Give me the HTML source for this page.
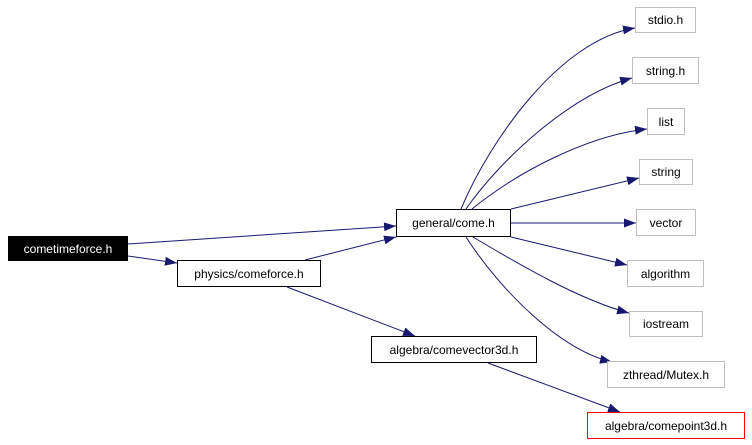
<!DOCTYPE html>
<html><head><meta charset="utf-8"><style>
html,body{margin:0;padding:0;background:#fff;}
body{width:752px;height:445px;position:relative;overflow:hidden;font-family:"Liberation Sans",Arial,sans-serif;}
.n{position:absolute;box-sizing:border-box;border:1px solid #000;background:#fff;font-size:12px;color:#000;display:flex;align-items:center;justify-content:center;white-space:nowrap;}
.g{border-color:#bfbfbf;}
svg{position:absolute;left:0;top:0;}
</style></head><body>
<svg width="752" height="445" viewBox="0 0 752 445">
<defs><marker id="a" markerWidth="12" markerHeight="9" refX="12" refY="4.5" orient="auto" markerUnits="userSpaceOnUse"><path d="M0,0 L12,4.5 L0,9 z" fill="#191970"/></marker></defs>
<g fill="none" stroke="#191970" stroke-width="1" marker-end="url(#a)">
<path d="M128,244 L396,226"/>
<path d="M128,256 L177,263"/>
<path d="M305,260 L396,237"/>
<path d="M287,287 L415,336"/>
<path d="M488,363 L620,412"/>
<path d="M461,209 C490,140 560,40 635,28"/>
<path d="M466,209 C500,160 570,95 632,78"/>
<path d="M472,209 C520,170 590,135 647,129"/>
<path d="M511,209 L639,178"/>
<path d="M511,223 L636,223"/>
<path d="M511,237 L627,265"/>
<path d="M473,237 C520,265 580,300 629,313"/>
<path d="M466,237 C500,290 560,350 612,362"/>
</g>
</svg>
<div class="n" style="left:8px;top:236px;width:120px;height:25px;background:#000;color:#fff;">cometimeforce.h</div>
<div class="n" style="left:177px;top:260px;width:144px;height:27px;">physics/comeforce.h</div>
<div class="n" style="left:396px;top:209px;width:115px;height:28px;">general/come.h</div>
<div class="n" style="left:371px;top:336px;width:166px;height:27px;">algebra/comevector3d.h</div>
<div class="n" style="left:587px;top:412px;width:158px;height:27px;border-color:#f00;">algebra/comepoint3d.h</div>
<div class="n g" style="left:635px;top:7px;width:61px;height:26px;">stdio.h</div>
<div class="n g" style="left:632px;top:57px;width:67px;height:27px;">string.h</div>
<div class="n g" style="left:647px;top:108px;width:38px;height:27px;">list</div>
<div class="n g" style="left:639px;top:159px;width:54px;height:26px;">string</div>
<div class="n g" style="left:636px;top:209px;width:60px;height:27px;">vector</div>
<div class="n g" style="left:627px;top:260px;width:77px;height:27px;">algorithm</div>
<div class="n g" style="left:629px;top:311px;width:74px;height:26px;">iostream</div>
<div class="n g" style="left:607px;top:361px;width:118px;height:27px;">zthread/Mutex.h</div>
</body></html>
